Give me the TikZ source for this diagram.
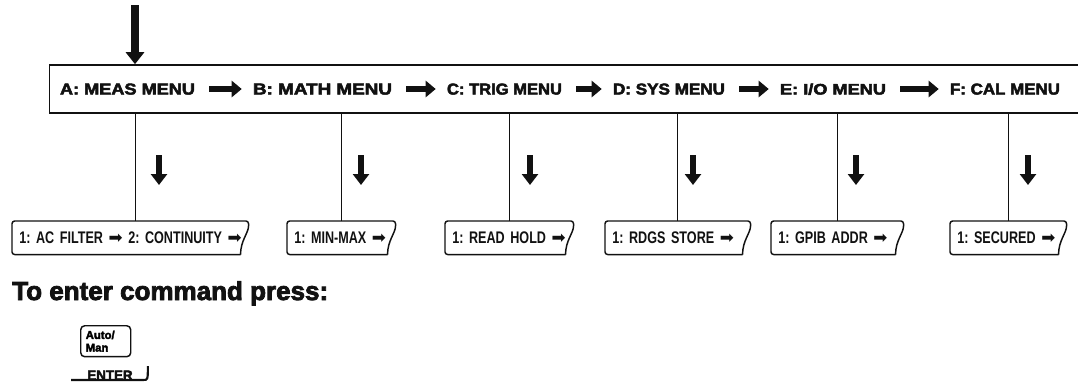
\documentclass[tikz,border=0pt]{standalone}
\usepackage{graphicx}
\usepackage{fontspec}
\setmainfont{Liberation Sans}
\newfontfamily\menufont[UprightFont={* Bold},FakeBold=3]{Liberation Sans}
\newfontfamily\dispfont[UprightFont={* Bold},FakeStretch=0.75]{Liberation Sans}
\newfontfamily\symfont{DejaVu Sans}
\usepackage{tikz}
\usetikzlibrary{positioning,arrows.meta,calc}
\definecolor{ink}{HTML}{111111}
\newcommand\rarr{{\symfont\char"27A1}}
\newcommand\menutext[2]{\resizebox{#1}{8.25pt}{#2}}
\frenchspacing
\tikzset{
  menubar/.style={draw=ink, line width=1.2pt, minimum width=776pt, minimum height=36pt, inner sep=0pt},
  menulbl/.style={font=\menufont\fontsize{12}{14}\selectfont, text=ink, inner sep=0pt, text height=8.25pt, text depth=0pt},
  nextarrow/.style={draw=ink, line width=5pt, -{Triangle[length=7.5pt,width=12pt]}, shorten <=10.5pt, shorten >=8.25pt},
  dispbox/.style={font=\dispfont\fontsize{12.6}{15}\selectfont, text=ink, inner xsep=5.25pt, inner ysep=0pt, minimum height=24.75pt, text width=#1, align=left},
  outline/.style={draw=ink, line width=1.1pt, line join=round},
  stem/.style={draw=ink, line width=1pt},
  downarrow/.style={draw=ink, line width=4.5pt, -{Triangle[length=8.25pt,width=12pt]}},
  entryarrow/.style={draw=ink, line width=6pt, -{Triangle[length=9pt,width=13.5pt]}},
  keycap/.style={draw=ink, line width=1.1pt, rounded corners=3pt, minimum width=37.5pt, minimum height=22.5pt, text width=30pt, align=left, inner sep=3.75pt, font=\menufont\fontsize{8.5}{9.5}\selectfont},
}
% display box with a curled right edge
\newcommand\curlbox[1]{%
  \draw[outline] ($(#1.south east)+(-8,0)$) [rounded corners=2pt] -- (#1.south west) -- (#1.north west) -- (#1.north east) [sharp corners] -- ($(#1.north east)+(0,5)$) .. controls ($(#1.north east)+(0,12)$) and ($(#1.south east)+(-8,-14)$) .. ($(#1.south east)+(-8,0)$);}

\begin{document}
\begin{tikzpicture}[x=0.75pt, y=-0.75pt]
\clip (0,0) rectangle (1078,386);

% menu bar
\node[menubar] (bar) at (567,89) {};
\node[menulbl] (meas) at (127.5,89) {\menutext{101.25pt}{A: MEAS MENU}};
\node[menulbl] (math) at (322.5,89) {\menutext{104.25pt}{B: MATH MENU}};
\node[menulbl] (trig) at (504.5,89) {\menutext{86.25pt}{C: TRIG MENU}};
\node[menulbl] (sys) at (669,89) {\menutext{84pt}{D: SYS MENU}};
\node[menulbl] (io) at (833,89) {\menutext{79.5pt}{E: I/O MENU}};
\node[menulbl] (cal) at (1005,89) {\menutext{82.5pt}{F: CAL MENU}};
\draw[nextarrow] (meas) -- (math);
\draw[nextarrow] (math) -- (trig);
\draw[nextarrow] (trig) -- (sys);
\draw[nextarrow] (sys) -- (io);
\draw[nextarrow] (io) -- (cal);

\coordinate (entry) at (135,5);
\draw[entryarrow] (entry) -- (entry |- bar.north);

% first entries of each menu
\node[dispbox=166.5pt, anchor=north west] (acfilter) at (12,221) {\mbox{1: AC FILTER \rarr{} 2: CONTINUITY \rarr}};
\node[dispbox=70.5pt, anchor=north west] (minmax) at (287,221) {\mbox{1: MIN-MAX \rarr}};
\node[dispbox=85.5pt, anchor=north west] (readhold) at (445,221) {\mbox{1: READ HOLD \rarr}};
\node[dispbox=98.25pt, anchor=north west] (rdgs) at (605,221) {\mbox{1: RDGS STORE \rarr}};
\node[dispbox=88.5pt, anchor=north west] (gpib) at (771,221) {\mbox{1: GPIB ADDR \rarr}};
\node[dispbox=76.5pt, anchor=north west] (secured) at (950,221) {\mbox{1: SECURED \rarr}};
\curlbox{acfilter}
\curlbox{minmax}
\curlbox{readhold}
\curlbox{rdgs}
\curlbox{gpib}
\curlbox{secured}

\coordinate (stemA) at ($(acfilter.north)+(5,0)$);
\draw[stem] (stemA) -- (stemA |- bar.south);
\draw[stem] (minmax.north) -- (minmax.north |- bar.south);
\draw[stem] (readhold.north) -- (readhold.north |- bar.south);
\draw[stem] (rdgs.north) -- (rdgs.north |- bar.south);
\draw[stem] (gpib.north) -- (gpib.north |- bar.south);
\draw[stem] (secured.north) -- (secured.north |- bar.south);

\coordinate (dnA) at (159,155);
\coordinate (dnB) at (361,155);
\coordinate (dnC) at (530,155);
\coordinate (dnD) at (693,155);
\coordinate (dnE) at (856,155);
\coordinate (dnF) at (1028,155);
\draw[downarrow] (dnA) -- ++(0,30);
\draw[downarrow] (dnB) -- ++(0,30);
\draw[downarrow] (dnC) -- ++(0,30);
\draw[downarrow] (dnD) -- ++(0,30);
\draw[downarrow] (dnE) -- ++(0,30);
\draw[downarrow] (dnF) -- ++(0,30);

% key to press
\node[anchor=base west, inner sep=0pt, text=ink, font=\menufont\fontsize{19.5}{22}\selectfont] (prompt) at (12,300) {To enter command press:};
\node[keycap, anchor=north west] (autokey) at (80,325) {Auto/\\Man};
\node[anchor=south, inner sep=0pt, text=ink, font=\menufont\fontsize{10}{11}\selectfont] (enterlbl) at (110,380) {ENTER};
\coordinate (hook) at ($(enterlbl.south east)+(15,-14)$);
\draw[ink, line width=1.6pt] ($(enterlbl.south west)+(-16,0)$) -- ($(enterlbl.south east)+(10,0)$) .. controls ($(enterlbl.south east)+(15,0)$) .. (hook);
\end{tikzpicture}
\end{document}
